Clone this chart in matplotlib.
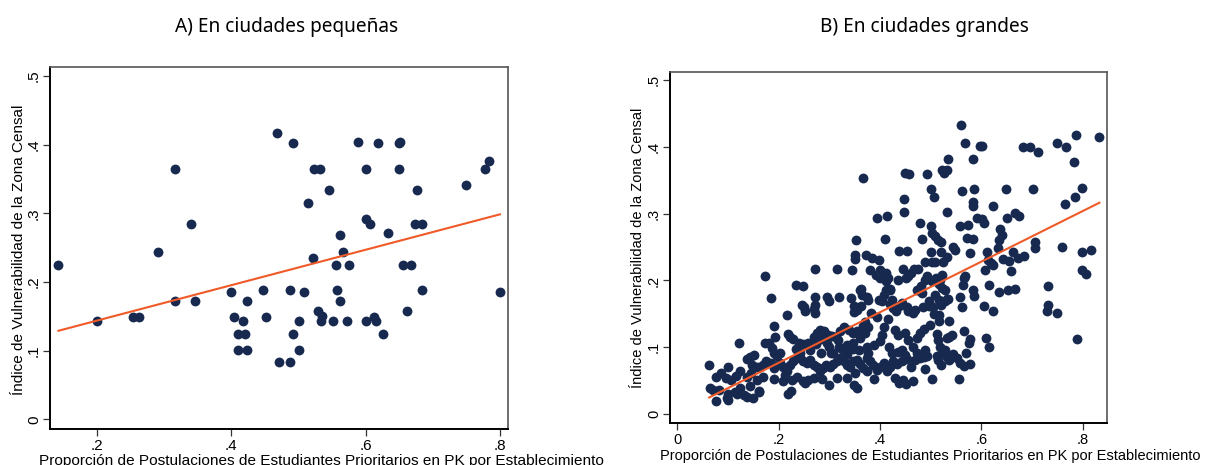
import numpy as np
import matplotlib.pyplot as plt
from matplotlib.ticker import FuncFormatter

# Panel A: ciudades pequeñas
x_small = [0.143, 0.200, 0.254, 0.263, 0.291, 0.317, 0.317, 0.340, 0.347, 0.400,
           0.405, 0.410, 0.410, 0.417, 0.421, 0.423, 0.424, 0.447, 0.452, 0.469,
           0.471, 0.488, 0.488, 0.492, 0.492, 0.501, 0.501, 0.508, 0.514, 0.522,
           0.523, 0.530, 0.532, 0.534, 0.535, 0.546, 0.551, 0.556, 0.557, 0.562,
           0.562, 0.566, 0.572, 0.575, 0.589, 0.600, 0.600, 0.600, 0.606, 0.612,
           0.615, 0.618, 0.626, 0.633, 0.650, 0.652, 0.650, 0.656, 0.661, 0.667,
           0.676, 0.674, 0.684, 0.684, 0.750, 0.778, 0.783, 0.800]
y_small = [0.225, 0.143, 0.149, 0.149, 0.243, 0.365, 0.173, 0.285, 0.173, 0.186,
           0.149, 0.125, 0.101, 0.143, 0.125, 0.173, 0.101, 0.188, 0.149, 0.417,
           0.083, 0.083, 0.188, 0.402, 0.125, 0.143, 0.101, 0.186, 0.315, 0.235,
           0.365, 0.158, 0.365, 0.143, 0.150, 0.334, 0.143, 0.225, 0.188, 0.173,
           0.269, 0.243, 0.143, 0.225, 0.404, 0.365, 0.292, 0.143, 0.285, 0.149,
           0.143, 0.402, 0.125, 0.272, 0.402, 0.404, 0.365, 0.225, 0.158, 0.225,
           0.334, 0.285, 0.285, 0.189, 0.341, 0.365, 0.376, 0.186]
fit_small = (0.258, 0.0921)  # pendiente, intercepto

# Panel B: ciudades grandes
x_large = [
    0.559, 0.567, 0.598, 0.602, 0.535, 0.583, 0.682, 0.696, 0.712, 0.750,
    0.767, 0.786, 0.833, 0.782, 0.367, 0.450, 0.458, 0.492, 0.523, 0.527,
    0.532, 0.562, 0.585, 0.501, 0.649, 0.702, 0.799, 0.784,
    0.447, 0.506, 0.583, 0.583, 0.623, 0.532, 0.448, 0.394, 0.413, 0.591,
    0.601, 0.606, 0.650, 0.666, 0.675, 0.765, 0.557, 0.478, 0.574,
    0.353, 0.409, 0.483, 0.500, 0.503, 0.509, 0.515, 0.520, 0.571, 0.583,
    0.636, 0.640, 0.634, 0.545, 0.549, 0.437, 0.453, 0.500, 0.521, 0.532,
    0.372, 0.384, 0.399, 0.351, 0.351, 0.577, 0.611, 0.632, 0.614, 0.642,
    0.662, 0.655, 0.673, 0.685, 0.706, 0.706, 0.759, 0.799, 0.817,
    0.174, 0.271, 0.316, 0.344, 0.381, 0.400, 0.392, 0.401, 0.411, 0.415,
    0.446, 0.455, 0.461, 0.468, 0.476, 0.489, 0.503, 0.508, 0.524, 0.493,
    0.510, 0.523, 0.519, 0.516, 0.523, 0.528, 0.567, 0.565, 0.608, 0.620,
    0.624, 0.659, 0.799, 0.807, 0.615, 0.634, 0.652, 0.666, 0.731, 0.235,
    0.249, 0.411, 0.419, 0.363, 0.436, 0.451, 0.475, 0.481, 0.488, 0.502,
    0.563,
    0.185, 0.246, 0.250, 0.253, 0.216, 0.271, 0.269, 0.272, 0.272, 0.295,
    0.299, 0.319, 0.343, 0.348, 0.349, 0.361, 0.365, 0.374, 0.377, 0.363,
    0.354, 0.383, 0.395, 0.399, 0.403, 0.408, 0.412, 0.420, 0.424, 0.419,
    0.426, 0.431, 0.438, 0.444, 0.453, 0.455, 0.465, 0.469, 0.474, 0.482,
    0.496, 0.497, 0.484, 0.505, 0.506, 0.508, 0.516, 0.521, 0.528, 0.532,
    0.535, 0.516, 0.517, 0.536, 0.557, 0.561, 0.606, 0.624, 0.730, 0.732,
    0.750, 0.583, 0.585,
    0.122, 0.191, 0.192, 0.174, 0.180, 0.186, 0.190, 0.219, 0.222, 0.228,
    0.240, 0.249, 0.257, 0.269, 0.275, 0.282, 0.290, 0.284, 0.274, 0.297,
    0.295, 0.306, 0.313, 0.317, 0.328, 0.322, 0.338, 0.347, 0.355, 0.367,
    0.370, 0.377, 0.371, 0.361, 0.347, 0.334, 0.326, 0.308, 0.347, 0.359,
    0.374, 0.376, 0.388, 0.400, 0.403, 0.408, 0.415, 0.430, 0.436, 0.449,
    0.456, 0.473, 0.479, 0.487, 0.498, 0.512, 0.515, 0.519, 0.532, 0.537,
    0.542, 0.565, 0.578, 0.610, 0.616, 0.788, 0.203, 0.234, 0.242, 0.262,
    0.283, 0.299, 0.303, 0.320, 0.334, 0.417, 0.424, 0.436, 0.443, 0.466,
    0.473, 0.489, 0.492, 0.512, 0.525, 0.529, 0.533, 0.544, 0.552, 0.569,
    0.576,
    0.063, 0.100, 0.137, 0.143, 0.151, 0.147, 0.157, 0.163, 0.170, 0.176,
    0.185, 0.190, 0.196, 0.203, 0.209, 0.216, 0.222, 0.229, 0.236, 0.242,
    0.249, 0.255, 0.262, 0.269, 0.275, 0.282, 0.287, 0.294, 0.301, 0.308,
    0.316, 0.321, 0.328, 0.334, 0.341, 0.347, 0.354, 0.361, 0.367, 0.374,
    0.380, 0.387, 0.394, 0.400, 0.407, 0.413, 0.420, 0.426, 0.433, 0.443,
    0.449, 0.453, 0.461, 0.469, 0.479, 0.487, 0.489, 0.536, 0.557, 0.565,
    0.577, 0.515, 0.520, 0.076, 0.086, 0.097, 0.105, 0.116, 0.124, 0.137,
    0.145, 0.157, 0.170, 0.190, 0.208, 0.213, 0.226, 0.236, 0.249, 0.257,
    0.269, 0.285, 0.300, 0.315, 0.334, 0.351, 0.374, 0.388, 0.430, 0.437,
    0.446, 0.451, 0.466, 0.503, 0.555, 0.349, 0.354, 0.064, 0.071, 0.083,
    0.101, 0.114, 0.124, 0.143, 0.162, 0.218, 0.224, 0.252,
    0.076, 0.099, 0.101, 0.117, 0.132, 0.137, 0.149, 0.161]
y_large = [
    0.432, 0.406, 0.401, 0.401, 0.382, 0.382, 0.400, 0.400, 0.392, 0.406,
    0.399, 0.418, 0.415, 0.377, 0.353, 0.361, 0.359, 0.359, 0.365, 0.360,
    0.365, 0.333, 0.336, 0.337, 0.337, 0.337, 0.338, 0.325,
    0.322, 0.324, 0.317, 0.312, 0.312, 0.302, 0.302, 0.294, 0.297, 0.293,
    0.292, 0.286, 0.294, 0.301, 0.297, 0.315, 0.281, 0.286, 0.283,
    0.260, 0.262, 0.262, 0.281, 0.271, 0.266, 0.261, 0.258, 0.264, 0.262,
    0.277, 0.268, 0.261, 0.250, 0.246, 0.244, 0.244, 0.243, 0.242, 0.235,
    0.238, 0.234, 0.231, 0.238, 0.232, 0.241, 0.242, 0.249, 0.231, 0.232,
    0.242, 0.229, 0.234, 0.236, 0.258, 0.249, 0.250, 0.242, 0.246,
    0.207, 0.217, 0.217, 0.216, 0.216, 0.216, 0.208, 0.203, 0.211, 0.203,
    0.217, 0.206, 0.211, 0.217, 0.217, 0.228, 0.228, 0.228, 0.227, 0.207,
    0.203, 0.208, 0.201, 0.195, 0.188, 0.185, 0.207, 0.203, 0.216, 0.226,
    0.223, 0.214, 0.215, 0.209, 0.193, 0.182, 0.186, 0.187, 0.192, 0.193,
    0.191, 0.199, 0.187, 0.187, 0.201, 0.203, 0.186, 0.191, 0.200, 0.199,
    0.193,
    0.174, 0.164, 0.160, 0.154, 0.149, 0.163, 0.158, 0.152, 0.175, 0.175,
    0.170, 0.175, 0.174, 0.162, 0.153, 0.186, 0.178, 0.175, 0.171, 0.162,
    0.156, 0.152, 0.146, 0.171, 0.169, 0.179, 0.186, 0.186, 0.171, 0.165,
    0.159, 0.154, 0.162, 0.167, 0.161, 0.154, 0.151, 0.156, 0.186, 0.181,
    0.170, 0.162, 0.160, 0.161, 0.150, 0.178, 0.171, 0.163, 0.170, 0.173,
    0.173, 0.148, 0.140, 0.139, 0.175, 0.160, 0.162, 0.154, 0.155, 0.164,
    0.152, 0.186, 0.177,
    0.106, 0.132, 0.116, 0.106, 0.106, 0.099, 0.091, 0.120, 0.115, 0.112,
    0.106, 0.105, 0.107, 0.116, 0.121, 0.126, 0.125, 0.112, 0.105, 0.118,
    0.106, 0.117, 0.115, 0.111, 0.131, 0.124, 0.126, 0.121, 0.125, 0.132,
    0.138, 0.131, 0.121, 0.114, 0.106, 0.104, 0.097, 0.092, 0.097, 0.096,
    0.100, 0.091, 0.104, 0.110, 0.119, 0.131, 0.143, 0.126, 0.119, 0.121,
    0.111, 0.114, 0.121, 0.127, 0.134, 0.120, 0.111, 0.101, 0.114, 0.116,
    0.119, 0.125, 0.112, 0.114, 0.100, 0.112, 0.091, 0.098, 0.092, 0.096,
    0.092, 0.100, 0.091, 0.100, 0.090, 0.100, 0.091, 0.093, 0.096, 0.100,
    0.091, 0.096, 0.087, 0.087, 0.091, 0.096, 0.086, 0.090, 0.084, 0.091,
    0.106,
    0.073, 0.070, 0.082, 0.086, 0.089, 0.074, 0.071, 0.070, 0.074, 0.079,
    0.077, 0.069, 0.087, 0.076, 0.071, 0.065, 0.074, 0.079, 0.084, 0.086,
    0.079, 0.076, 0.081, 0.074, 0.071, 0.064, 0.069, 0.074, 0.071, 0.075,
    0.079, 0.084, 0.079, 0.074, 0.071, 0.079, 0.081, 0.075, 0.069, 0.084,
    0.079, 0.074, 0.066, 0.070, 0.076, 0.065, 0.071, 0.079, 0.075, 0.079,
    0.089, 0.082, 0.071, 0.081, 0.084, 0.086, 0.067, 0.081, 0.077, 0.072,
    0.075, 0.081, 0.074, 0.056, 0.061, 0.054, 0.051, 0.057, 0.064, 0.056,
    0.061, 0.051, 0.056, 0.052, 0.049, 0.059, 0.051, 0.056, 0.049, 0.051,
    0.054, 0.053, 0.044, 0.054, 0.054, 0.061, 0.064, 0.053, 0.054, 0.047,
    0.051, 0.045, 0.049, 0.053, 0.053, 0.044, 0.039, 0.039, 0.036, 0.036,
    0.031, 0.034, 0.039, 0.042, 0.034, 0.031, 0.035, 0.046,
    0.020, 0.024, 0.022, 0.031, 0.029, 0.026, 0.025, 0.035]
fit_large = (0.378, 0.0013)

titles = ['A) En ciudades pequeñas', 'B) En ciudades grandes']
xlabel = 'Proporción de Postulaciones de Estudiantes Prioritarios en PK por Establecimiento'
ylabel = 'Índice de Vulnerabilidad de la Zona Censal'

dot_color = '#17294f'
line_color = '#f05a28'

W, H = 1212, 465


def stata_fmt(v, pos):
    s = f'{v:.1f}'
    if s == '0.0':
        return '0'
    return s.replace('0.', '.', 1)


fig = plt.figure(figsize=(W / 100, H / 100), dpi=100)
ax1 = fig.add_axes([50 / W, 1 - 429 / H, 458 / W, 362 / H])
ax2 = fig.add_axes([670 / W, 1 - 423.3 / H, 437.3 / W, 351.6 / H])

# ejes, datos, ajuste, límites x, ticks x, límites y, tamaño de fuente
panels = [
    (ax1, x_small, y_small, fit_small, (0.1305, 0.812), [0.2, 0.4, 0.6, 0.8],
     (-0.014, 0.513), 11.0),
    (ax2, x_large, y_large, fit_large, (-0.0144, 0.8486), [0, 0.2, 0.4, 0.6, 0.8],
     (-0.0135, 0.512), 10.5),
]

for ax, xs, ys, fit, xlim, xticks, ylim, fs in panels:
    xs = np.array(xs)
    ys = np.array(ys)
    ax.scatter(xs, ys, s=50, color=dot_color, linewidths=0, zorder=2)
    xx = np.array([xs.min(), xs.max()])
    ax.plot(xx, fit[0] * xx + fit[1], color=line_color, lw=1.5, zorder=3)
    ax.set_xlim(*xlim)
    ax.set_ylim(*ylim)
    ax.set_xticks(xticks)
    ax.set_yticks([0, 0.1, 0.2, 0.3, 0.4, 0.5])
    ax.xaxis.set_major_formatter(FuncFormatter(stata_fmt))
    ax.yaxis.set_major_formatter(FuncFormatter(stata_fmt))
    ax.tick_params(axis='both', length=5, width=0.9, labelsize=fs, direction='out',
                   color='#333333')
    for lab in ax.get_yticklabels():
        lab.set_rotation(90)
        lab.set_va('center')
        lab.set_fontfamily('Liberation Sans')
    for lab in ax.get_xticklabels():
        lab.set_fontfamily('Liberation Sans')
    ax.tick_params(axis='x', pad=2)
    ax.tick_params(axis='y', pad=1.5)
    for side in ['left', 'bottom']:
        ax.spines[side].set_linewidth(1.4)
        ax.spines[side].set_color('black')
    for side in ['top', 'right']:
        ax.spines[side].set_linewidth(1.2)
        ax.spines[side].set_color('#555555')

# títulos de ejes (posición como en el original de Stata)
fig.text(19 / W, 1 - 250 / H, ylabel, rotation=90, ha='center', va='center',
         fontsize=11.0, family='Liberation Sans')
fig.text(638 / W, 1 - 248 / H, ylabel, rotation=90, ha='center', va='center',
         fontsize=10.5, family='Liberation Sans')
fig.text(321.5 / W, 1 - 454 / H, xlabel, ha='center', va='top',
         fontsize=11.1, family='Liberation Sans')
fig.text(930 / W, 1 - 449 / H, xlabel, ha='center', va='top',
         fontsize=10.5, family='Liberation Sans')

fig.text(286.5 / W, 1 - 32 / H, titles[0], ha='center', va='baseline',
         fontsize=13.7, family='Noto Sans')
fig.text(924.5 / W, 1 - 32 / H, titles[1], ha='center', va='baseline',
         fontsize=13.7, family='Noto Sans')

fig.savefig('out.png', dpi=100)
